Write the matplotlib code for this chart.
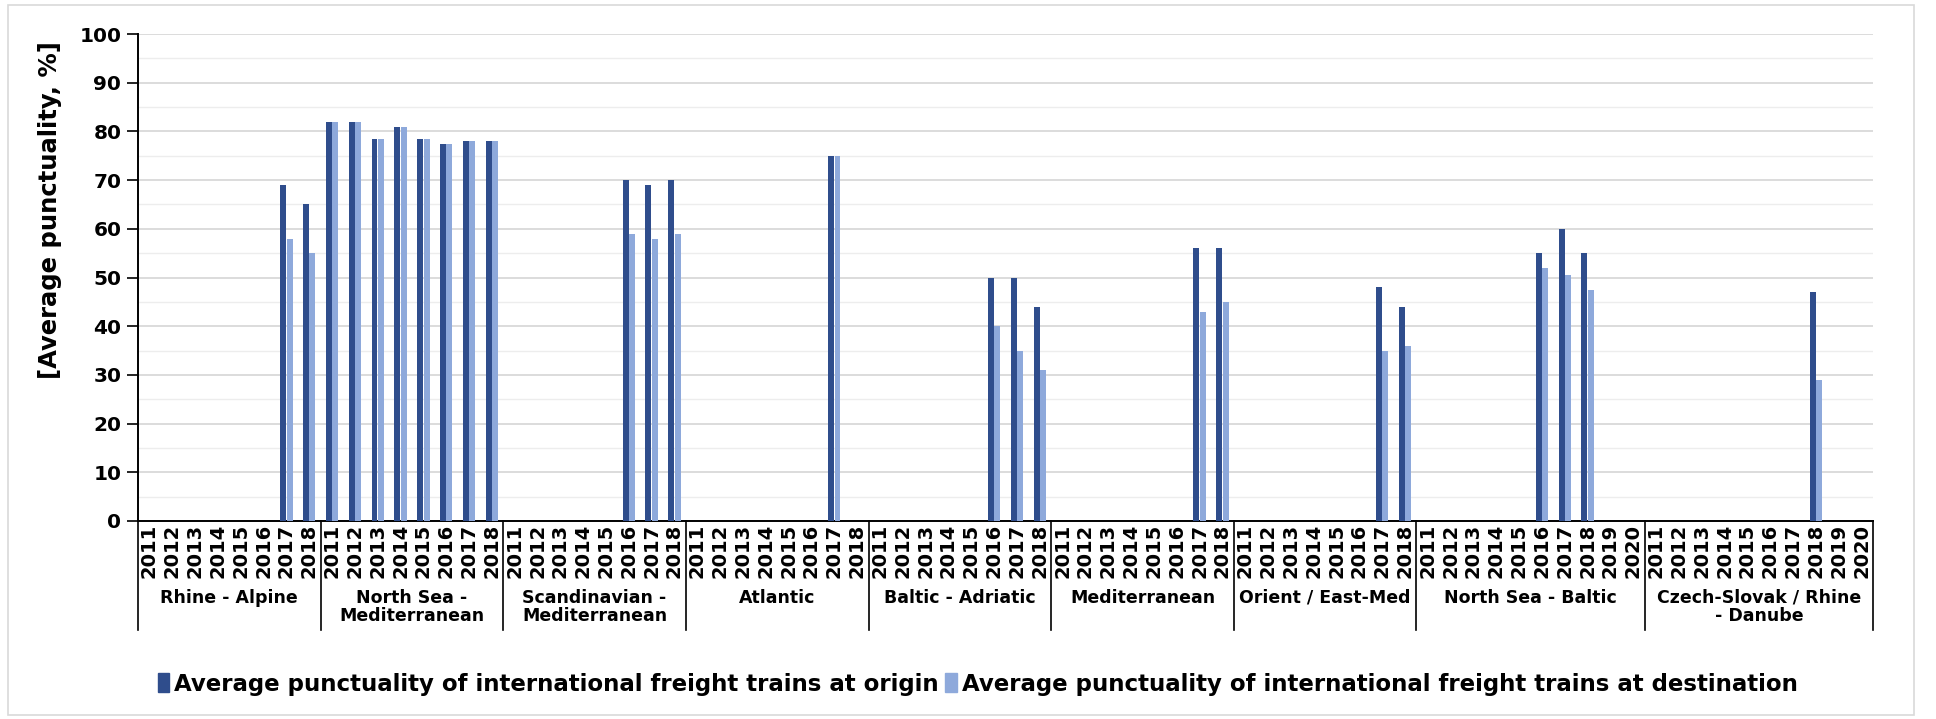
import matplotlib
matplotlib.use("Agg")
import matplotlib.pyplot as plt
import matplotlib.patches as mpatches
import matplotlib.transforms as mtransforms
import numpy as np

nan = np.nan

corridors = ["Rhine - Alpine", "North Sea -\nMediterranean", "Scandinavian -\nMediterranean",
             "Atlantic", "Baltic - Adriatic", "Mediterranean", "Orient / East-Med",
             "North Sea - Baltic", "Czech-Slovak / Rhine\n- Danube"]
years_short = [2011, 2012, 2013, 2014, 2015, 2016, 2017, 2018]
years_long = [2011, 2012, 2013, 2014, 2015, 2016, 2017, 2018, 2019, 2020]
corridor_years = [years_short] * 7 + [years_long] * 2

# punctuality at origin, one list per corridor
origin = [
    [nan, nan, nan, nan, nan, nan, 69, 65],
    [82, 82, 78.5, 81, 78.5, 77.5, 78, 78],
    [nan, nan, nan, nan, nan, 70, 69, 70],
    [nan, nan, nan, nan, nan, nan, 75, nan],
    [nan, nan, nan, nan, nan, 50, 50, 44],
    [nan, nan, nan, nan, nan, nan, 56, 56],
    [nan, nan, nan, nan, nan, nan, 48, 44],
    [nan, nan, nan, nan, nan, 55, 60, 55, nan, nan],
    [nan, nan, nan, nan, nan, nan, nan, 47, nan, nan],
]
# punctuality at destination
destination = [
    [nan, nan, nan, nan, nan, nan, 58, 55],
    [82, 82, 78.5, 81, 78.5, 77.5, 78, 78],
    [nan, nan, nan, nan, nan, 59, 58, 59],
    [nan, nan, nan, nan, nan, nan, 75, nan],
    [nan, nan, nan, nan, nan, 40, 35, 31],
    [nan, nan, nan, nan, nan, nan, 43, 45],
    [nan, nan, nan, nan, nan, nan, 35, 36],
    [nan, nan, nan, nan, nan, 52, 50.5, 47.5, nan, nan],
    [nan, nan, nan, nan, nan, nan, nan, 29, nan, nan],
]
label_origin = "Average punctuality of international freight trains at origin"
label_dest = "Average punctuality of international freight trains at destination"

dark = "#2F4D8C"
light = "#8EA9DB"

W, H = 1936, 719
fig = plt.figure(figsize=(W / 100, H / 100), dpi=100)
ax = fig.add_axes([138 / W, 1 - 521 / H, (1873 - 138) / W, 487 / H])

year_labels = [str(y) for ys in corridor_years for y in ys]
o_flat = np.array([v for vals in origin for v in vals], dtype=float)
d_flat = np.array([v for vals in destination for v in vals], dtype=float)
x = np.arange(len(year_labels))

bw = 0.26
ax.bar(x - 0.14, o_flat, bw, color=dark, zorder=3)
ax.bar(x + 0.14, d_flat, bw, color=light, zorder=3)

ax.set_xlim(-0.5, len(x) - 0.5)
ax.set_ylim(0, 100)
ax.set_yticks(np.arange(0, 101, 10))
ax.set_yticks(np.arange(5, 100, 10), minor=True)
ax.grid(axis="y", which="major", color="#D6D6D6", lw=1.2, zorder=0)
ax.grid(axis="y", which="minor", color="#EDEDED", lw=1.0, zorder=0)
for lab in ax.get_yticklabels():
    lab.set_fontweight("bold")
ax.tick_params(axis="y", which="major", labelsize=14.5, length=8, width=1.2, pad=4)
ax.tick_params(axis="y", which="minor", length=0)
ax.set_xticks(x)
ax.set_xticklabels(year_labels, rotation=90, fontsize=14, fontweight="bold")
ax.tick_params(axis="x", length=0, pad=2)

for side in ["top", "right"]:
    ax.spines[side].set_visible(False)
ax.spines["left"].set_linewidth(1.4)
ax.spines["bottom"].set_linewidth(1.4)

ax.set_ylabel("[Average punctuality, %]", fontsize=17.5, fontweight="bold", labelpad=6)
ax.yaxis.set_label_coords(-0.044, (521 - 210) / 487)

# group separators and corridor names under the years
trans = mtransforms.blended_transform_factory(ax.transData, ax.transAxes)
sep_bottom = -(630 - 521) / 487
name_top = -(589 - 521) / 487
start = 0
bounds = [-0.5]
for name, ys in zip(corridors, corridor_years):
    end = start + len(ys)
    bounds.append(end - 0.5)
    ax.text((start + end - 1) / 2, name_top, name, transform=trans, ha="center", va="top",
            fontsize=12.5, fontweight="bold", linespacing=1.0)
    start = end
for b in bounds:
    ax.plot([b, b], [0, sep_bottom], transform=trans, color="black", lw=1.2, clip_on=False)

handles = [mpatches.Patch(color=dark, label=label_origin),
           mpatches.Patch(color=light, label=label_dest)]
fig.legend(handles=handles, loc="center", bbox_to_anchor=(0.505, 1 - 684 / H), ncol=2,
           frameon=False, handlelength=0.5, handleheight=0.9, handletextpad=0.2,
           columnspacing=0.3, prop={"weight": "bold", "size": 16.5})

fig.patches.append(mpatches.Rectangle((8 / W, 4 / H), 1 - 30 / W, 1 - 9 / H,
                                      transform=fig.transFigure, fill=False,
                                      ec="#D9D9D9", lw=1.2))

fig.savefig("out.png", dpi=100)
